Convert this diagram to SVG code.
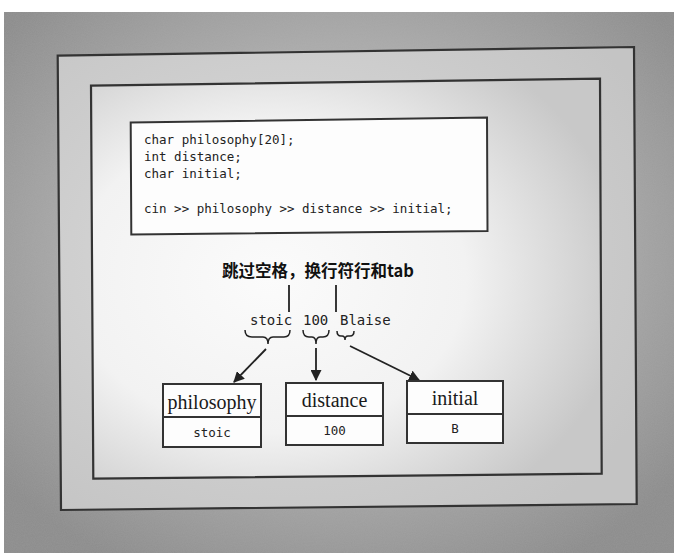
<svg xmlns="http://www.w3.org/2000/svg" width="674" height="558" viewBox="0 0 674 558">
<style>
.frame{stroke:#333;stroke-width:2.2;}
.box{fill:#fdfdfd;stroke:#333;stroke-width:2;}
.code{font-family:"DejaVu Sans Mono","Liberation Mono",monospace;font-size:12.5px;fill:#222;}
.val{font-family:"DejaVu Sans Mono","Liberation Mono",monospace;font-size:12.5px;fill:#222;text-anchor:middle;}
.name{font-family:"Liberation Serif","Times New Roman",serif;font-size:20px;fill:#1a1a1a;text-anchor:middle;}
.lbl{font-family:"DejaVu Sans Mono","Liberation Mono",monospace;font-size:14px;fill:#222;}
.title{font-family:"Noto Sans CJK SC","Noto Sans",sans-serif;font-size:16.5px;font-weight:bold;fill:#111;}
.conn{fill:none;stroke:#222;stroke-width:1.8;}
.brace{fill:none;stroke:#222;stroke-width:1.5;}
</style>
<defs>
<radialGradient id="bg" cx="50%" cy="45%" r="65%">
<stop offset="0" stop-color="#c0c0c0"/>
<stop offset="0.6" stop-color="#aaaaaa"/>
<stop offset="1" stop-color="#8c8c8c"/>
</radialGradient>
<radialGradient id="outerFill" cx="40%" cy="45%" r="70%">
<stop offset="0" stop-color="#dcdcdc"/>
<stop offset="1" stop-color="#c4c4c4"/>
</radialGradient>
<radialGradient id="innerFill" cx="35%" cy="50%" r="70%">
<stop offset="0" stop-color="#fbfbfb"/>
<stop offset="0.55" stop-color="#f2f2f2"/>
<stop offset="1" stop-color="#c8c8c8"/>
</radialGradient>
<filter id="grain" x="0" y="0" width="100%" height="100%">
<feTurbulence type="fractalNoise" baseFrequency="0.9" numOctaves="2" seed="3" result="n"/>
<feColorMatrix in="n" type="matrix" values="0 0 0 0 0.5  0 0 0 0 0.5  0 0 0 0 0.5  0 0 0 0.18 0"/>
</filter>
<marker id="ah" viewBox="0 0 10 10" refX="9" refY="5" markerWidth="11" markerHeight="11" markerUnits="userSpaceOnUse" orient="auto">
<path d="M0,0 L10,5 L0,10 z" fill="#222"/>
</marker>
</defs>

<g id="background">
<rect x="4" y="12" width="670" height="541" fill="url(#bg)"/>
<rect x="4" y="12" width="670" height="541" filter="url(#grain)"/>
</g>

<g id="outer-frame">
<polygon class="frame" fill="url(#outerFill)" points="57.7,55.7 634,47 636.7,504 61,510"/>
</g>
<g id="inner-frame">
<polygon class="frame" fill="url(#innerFill)" points="91,85.7 600,78.7 601.7,473.7 93.3,478.7"/>
</g>

<g id="code-box">
<polygon class="box" points="130.7,122.5 487,117.5 487.5,231 131.3,234.5"/>
<text class="code" x="144" y="144">char philosophy[20];</text>
<text class="code" x="144" y="161">int distance;</text>
<text class="code" x="144" y="178">char initial;</text>
<text class="code" x="144" y="213">cin &gt;&gt; philosophy &gt;&gt; distance &gt;&gt; initial;</text>
</g>

<g id="skip-label">
<text class="title" x="222" y="277">跳过空格，换行符行和tab</text>
</g>

<g id="input-labels">
<text class="lbl" x="250" y="325">stoic</text>
<text class="lbl" x="303" y="325">100</text>
<text class="lbl" x="340" y="325">Blaise</text>
</g>

<g id="connectors">
<line class="conn" x1="289" y1="285" x2="289" y2="312"/>
<line class="conn" x1="336" y1="285" x2="336" y2="312"/>
<path class="brace" d="M245,330 Q245,337 252,337 L263,337 Q268,337 268,344 Q268,337 273,337 L284,337 Q290,337 290,330"/>
<path class="brace" d="M303,330 Q303,337 309,337 L312,337 Q316,337 316,344 Q316,337 320,337 L323,337 Q329,337 329,330"/>
<path class="brace" d="M337,331 Q337,336 341,336 L342,336 Q345,336 345,340 Q345,336 348,336 L350,336 Q354,336 354,331"/>
<line class="conn" x1="266" y1="349" x2="234" y2="382" marker-end="url(#ah)"/>
<line class="conn" x1="316" y1="348" x2="316" y2="380" marker-end="url(#ah)"/>
<line class="conn" x1="350" y1="346" x2="419" y2="380" marker-end="url(#ah)"/>
</g>

<g id="philosophy">
<rect class="box" x="163" y="384" width="98" height="63"/>
<line class="box" x1="163" y1="417" x2="261" y2="417"/>
<text class="name" x="212" y="409">philosophy</text>
<text class="val" x="212" y="437">stoic</text>
</g>
<g id="distance">
<rect class="box" x="286" y="383" width="97" height="62"/>
<line class="box" x1="286" y1="416" x2="383" y2="416"/>
<text class="name" x="334.5" y="407">distance</text>
<text class="val" x="334.5" y="435">100</text>
</g>
<g id="initial">
<rect class="box" x="407" y="381" width="96" height="62"/>
<line class="box" x1="407" y1="414" x2="503" y2="414"/>
<text class="name" x="455" y="405">initial</text>
<text class="val" x="455" y="433">B</text>
</g>
</svg>
